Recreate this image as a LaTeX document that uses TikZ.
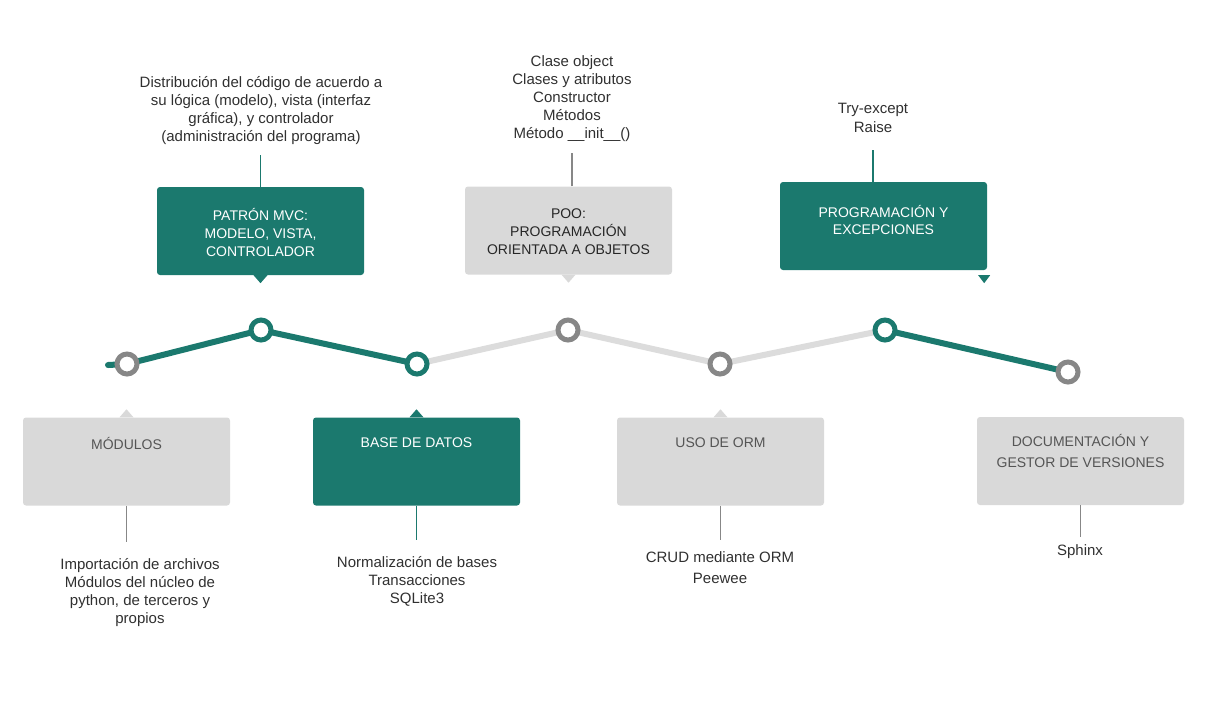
\documentclass[tikz,border=0pt]{standalone}
\usepackage{fontspec}
\setmainfont{Liberation Sans}
\usetikzlibrary{positioning,backgrounds}

\definecolor{pathgreen}{RGB}{27,121,110}
\definecolor{boxgray}{RGB}{217,217,217}
\definecolor{ringgray}{RGB}{135,135,135}
\definecolor{linegray}{RGB}{220,220,220}
\definecolor{notegray}{RGB}{48,48,48}
\definecolor{titlegray}{RGB}{85,85,85}

\tikzset{
  greenbox/.style={fill=pathgreen, rounded corners=3pt, minimum width=207pt, minimum height=88pt, inner sep=0pt},
  graybox/.style={fill=boxgray, rounded corners=3pt, minimum width=207pt, minimum height=88pt, inner sep=0pt},
  boxtitle/.style={align=center, inner sep=0pt, font=\fontsize{14}{18}\selectfont},
  note/.style={align=center, inner sep=0pt, text=notegray, font=\fontsize{15}{18}\selectfont},
  ringgreen/.style={circle, draw=pathgreen, line width=5pt, fill=white, minimum size=20pt, inner sep=0pt},
  ringgrey/.style={circle, draw=ringgray, line width=5pt, fill=white, minimum size=20pt, inner sep=0pt},
  track/.style={line width=6pt, line cap=round},
  stem/.style={line width=1.2pt}
}

\begin{document}
\begin{tikzpicture}[x=1pt, y=-1pt]
  \useasboundingbox (0,0) rectangle (1228,721);

  % timeline
  \coordinate (start) at (108,365);
  \node[ringgrey]  (d1) at (127,364) {};
  \node[ringgreen] (d2) at (261,330) {};
  \node[ringgreen] (d3) at (417,364) {};
  \node[ringgrey]  (d4) at (568,330) {};
  \node[ringgrey]  (d5) at (720,364) {};
  \node[ringgreen] (d6) at (885,330) {};
  \node[ringgrey]  (d7) at (1068,372) {};
  \begin{pgfonlayer}{background}
    \draw[track, pathgreen] (start) -- (d1.center) -- (d2.center) -- (d3.center);
    \draw[track, linegray] (d3.center) -- (d4.center) -- (d5.center) -- (d6.center);
    \draw[track, pathgreen] (d6.center) -- (d7.center);
  \end{pgfonlayer}

  % upper boxes
  \node[greenbox] (mvc) at (260.5,231) {};
  \node[boxtitle, text=white] (mvctitle) at (260.5,232) {PATRÓN MVC:\\MODELO, VISTA,\\CONTROLADOR};
  \fill[pathgreen] ([xshift=-7pt]mvc.south) -- ([xshift=7pt]mvc.south) -- ([yshift=-8pt]mvc.south) -- cycle;
  \node[note] (mvcnote) at (261,111) {Distribución del código de acuerdo a\\su lógica (modelo), vista (interfaz\\gráfica), y controlador\\(administración del programa)};
  \draw[stem, pathgreen, shorten >=10pt] (mvc.north) -- (mvc.north |- mvcnote.south);

  \node[graybox] (poo) at (568.5,230.5) {};
  \node[boxtitle, text=black!85] (pootitle) at (568.5,232) {POO:\\PROGRAMACIÓN\\ORIENTADA A OBJETOS};
  \fill[boxgray] ([xshift=-7pt]poo.south) -- ([xshift=7pt]poo.south) -- ([yshift=-8pt]poo.south) -- cycle;
  \node[note] (poonote) at (572,99) {Clase object\\Clases y atributos\\Constructor\\Métodos\\Método \_\_init\_\_()};
  \draw[stem, ringgray, shorten >=11pt] (poo.north -| poonote) -- (poonote.south);

  \node[greenbox] (prog) at (883.5,226) {};
  \node[boxtitle, text=white, font=\fontsize{14}{17}\selectfont] (progtitle) at (883.5,219.5) {PROGRAMACIÓN Y\\EXCEPCIONES};
  \fill[pathgreen] ([xshift=-9pt, yshift=-5pt]prog.south east) -- ([xshift=3pt, yshift=-5pt]prog.south east) -- ([xshift=-3pt, yshift=-13pt]prog.south east) -- cycle;
  \node[note, font=\fontsize{15}{19}\selectfont] (prognote) at (873,117.5) {Try-except\\Raise};
  \draw[stem, pathgreen, shorten >=18pt] (prog.north -| prognote) -- (prognote.south);

  % lower boxes
  \node[graybox] (mod) at (126.5,461.5) {};
  \node[boxtitle, text=titlegray] (modtitle) at (126.5,443) {MÓDULOS};
  \fill[boxgray] ([xshift=-7pt]mod.north) -- ([xshift=7pt]mod.north) -- ([yshift=8pt]mod.north) -- cycle;
  \node[note] (modnote) at (140,593) {Importación de archivos\\Módulos del núcleo de\\python, de terceros y\\propios};
  \draw[stem, ringgray, shorten >=17pt] (mod.south) -- (mod.south |- modnote.north);

  \node[greenbox] (bd) at (416.5,461.5) {};
  \node[boxtitle, text=white] (bdtitle) at (416.5,443) {BASE DE DATOS};
  \fill[pathgreen] ([xshift=-7pt]bd.north) -- ([xshift=7pt]bd.north) -- ([yshift=8pt]bd.north) -- cycle;
  \node[note] (bdnote) at (417,581) {Normalización de bases\\Transacciones\\SQLite3};
  \draw[stem, pathgreen, shorten >=16pt] (bd.south) -- (bd.south |- bdnote.north);

  \node[graybox] (orm) at (720.5,461.5) {};
  \node[boxtitle, text=titlegray] (ormtitle) at (720.5,443) {USO DE ORM};
  \fill[boxgray] ([xshift=-7pt]orm.north) -- ([xshift=7pt]orm.north) -- ([yshift=8pt]orm.north) -- cycle;
  \node[note, font=\fontsize{15}{21}\selectfont] (ormnote) at (720,567.5) {CRUD mediante ORM\\Peewee};
  \draw[stem, ringgray, shorten >=11pt] (orm.south) -- (orm.south |- ormnote.north);

  \node[graybox] (doc) at (1080.5,461) {};
  \node[boxtitle, text=titlegray, font=\fontsize{14}{21}\selectfont] (doctitle) at (1080.5,450.5) {DOCUMENTACIÓN Y\\GESTOR DE VERSIONES};
  \node[note] (docnote) at (1080,552) {Sphinx};
  \draw[stem, ringgray, shorten >=8pt] (doc.south) -- (doc.south |- docnote.north);
\end{tikzpicture}
\end{document}
